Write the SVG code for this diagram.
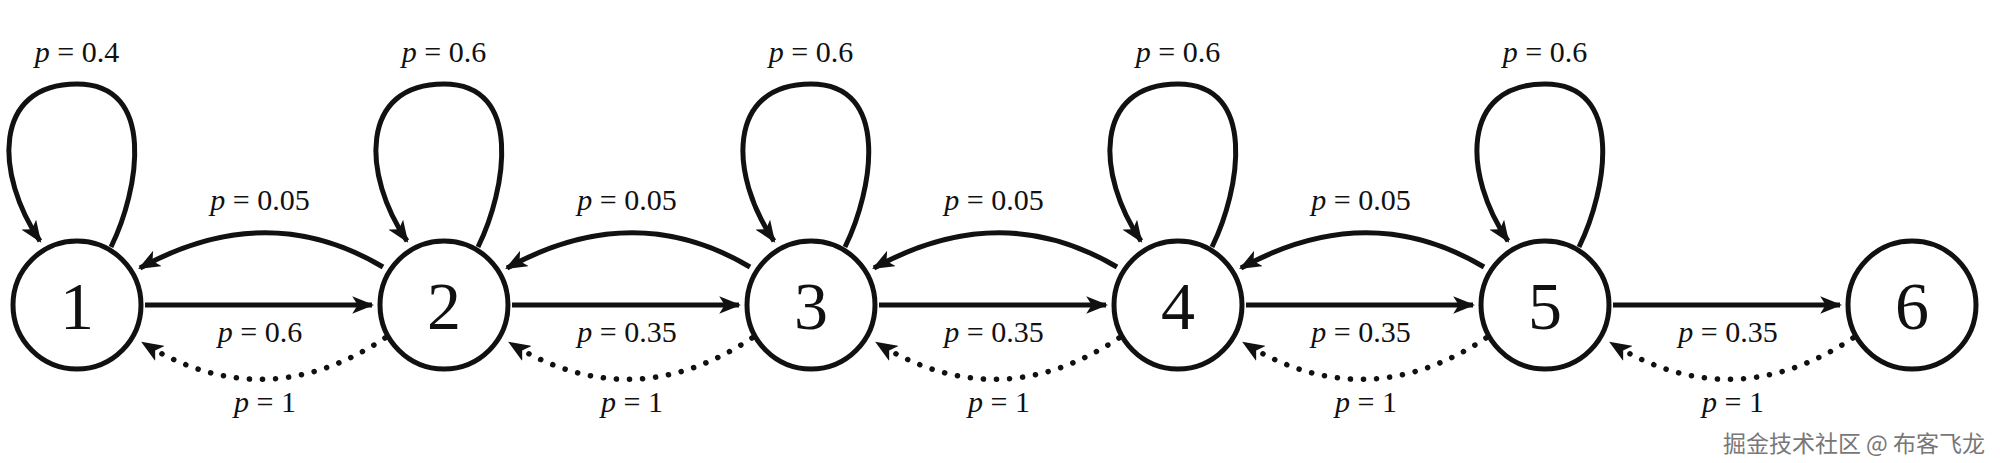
<svg xmlns="http://www.w3.org/2000/svg" width="2000" height="463" viewBox="0 0 2000 463">
<style>
.n{fill:#fff;stroke:#111;stroke-width:5}
.nt{font-family:"Liberation Serif",serif;font-size:68px;text-anchor:middle;fill:#111}
.l{font-family:"Liberation Serif",serif;font-size:30px;text-anchor:middle;fill:#111}
.c{fill:none;stroke:#111;stroke-width:5}
.d{fill:none;stroke:#111;stroke-width:5.5;stroke-dasharray:0.1 13;stroke-linecap:round}
.wm{font-family:"Noto Sans CJK SC","Liberation Sans",sans-serif;font-size:23px;fill:#777;text-anchor:end}
</style>
<defs>
<marker id="a" viewBox="0 0 20 16" refX="18" refY="8" markerWidth="22" markerHeight="18" markerUnits="userSpaceOnUse" orient="auto">
<path d="M0,0 L20,8 L0,16 L5,8 Z" fill="#111"/>
</marker>
</defs>
<g id="connectors">
<g transform="translate(77,0)">
<path class="c" d="M68,305 H295" marker-end="url(#a)"/>
<path class="c" d="M306,267 Q190,198 63,268" marker-end="url(#a)"/>
<path class="d" d="M308,338 Q187,418 66,343" marker-end="url(#a)"/>
<text class="l" x="183" y="210"><tspan font-style="italic">p</tspan> = 0.05</text>
<text class="l" x="183" y="342"><tspan font-style="italic">p</tspan> = 0.6</text>
<text class="l" x="188" y="412"><tspan font-style="italic">p</tspan> = 1</text>
</g>
<g transform="translate(444,0)">
<path class="c" d="M68,305 H295" marker-end="url(#a)"/>
<path class="c" d="M306,267 Q190,198 63,268" marker-end="url(#a)"/>
<path class="d" d="M308,338 Q187,418 66,343" marker-end="url(#a)"/>
<text class="l" x="183" y="210"><tspan font-style="italic">p</tspan> = 0.05</text>
<text class="l" x="183" y="342"><tspan font-style="italic">p</tspan> = 0.35</text>
<text class="l" x="188" y="412"><tspan font-style="italic">p</tspan> = 1</text>
</g>
<g transform="translate(811,0)">
<path class="c" d="M68,305 H295" marker-end="url(#a)"/>
<path class="c" d="M306,267 Q190,198 63,268" marker-end="url(#a)"/>
<path class="d" d="M308,338 Q187,418 66,343" marker-end="url(#a)"/>
<text class="l" x="183" y="210"><tspan font-style="italic">p</tspan> = 0.05</text>
<text class="l" x="183" y="342"><tspan font-style="italic">p</tspan> = 0.35</text>
<text class="l" x="188" y="412"><tspan font-style="italic">p</tspan> = 1</text>
</g>
<g transform="translate(1178,0)">
<path class="c" d="M68,305 H295" marker-end="url(#a)"/>
<path class="c" d="M306,267 Q190,198 63,268" marker-end="url(#a)"/>
<path class="d" d="M308,338 Q187,418 66,343" marker-end="url(#a)"/>
<text class="l" x="183" y="210"><tspan font-style="italic">p</tspan> = 0.05</text>
<text class="l" x="183" y="342"><tspan font-style="italic">p</tspan> = 0.35</text>
<text class="l" x="188" y="412"><tspan font-style="italic">p</tspan> = 1</text>
</g>
<g transform="translate(1545,0)">
<path class="c" d="M68,305 H295" marker-end="url(#a)"/>
<path class="d" d="M308,338 Q187,418 66,343" marker-end="url(#a)"/>
<text class="l" x="183" y="342"><tspan font-style="italic">p</tspan> = 0.35</text>
<text class="l" x="188" y="412"><tspan font-style="italic">p</tspan> = 1</text>
</g>
<g id="loops">
<g transform="translate(77,0)"><path class="c" d="M34,247 C62,190 80,84 0,84 C-85,84 -82,175 -37,241" marker-end="url(#a)"/><text class="l" x="0" y="62"><tspan font-style="italic">p</tspan> = 0.4</text></g>
<g transform="translate(444,0)"><path class="c" d="M34,247 C62,190 80,84 0,84 C-85,84 -82,175 -37,241" marker-end="url(#a)"/><text class="l" x="0" y="62"><tspan font-style="italic">p</tspan> = 0.6</text></g>
<g transform="translate(811,0)"><path class="c" d="M34,247 C62,190 80,84 0,84 C-85,84 -82,175 -37,241" marker-end="url(#a)"/><text class="l" x="0" y="62"><tspan font-style="italic">p</tspan> = 0.6</text></g>
<g transform="translate(1178,0)"><path class="c" d="M34,247 C62,190 80,84 0,84 C-85,84 -82,175 -37,241" marker-end="url(#a)"/><text class="l" x="0" y="62"><tspan font-style="italic">p</tspan> = 0.6</text></g>
<g transform="translate(1545,0)"><path class="c" d="M34,247 C62,190 80,84 0,84 C-85,84 -82,175 -37,241" marker-end="url(#a)"/><text class="l" x="0" y="62"><tspan font-style="italic">p</tspan> = 0.6</text></g>
</g>
</g>
<g id="node1"><circle class="n" cx="77" cy="305" r="64"/><text class="nt" x="77" y="329">1</text></g>
<g id="node2"><circle class="n" cx="444" cy="305" r="64"/><text class="nt" x="444" y="329">2</text></g>
<g id="node3"><circle class="n" cx="811" cy="305" r="64"/><text class="nt" x="811" y="329">3</text></g>
<g id="node4"><circle class="n" cx="1178" cy="305" r="64"/><text class="nt" x="1178" y="329">4</text></g>
<g id="node5"><circle class="n" cx="1545" cy="305" r="64"/><text class="nt" x="1545" y="329">5</text></g>
<g id="node6"><circle class="n" cx="1912" cy="305" r="64"/><text class="nt" x="1912" y="329">6</text></g>
<text class="wm" x="1985" y="452">掘金技术社区 @ 布客飞龙</text>
</svg>
